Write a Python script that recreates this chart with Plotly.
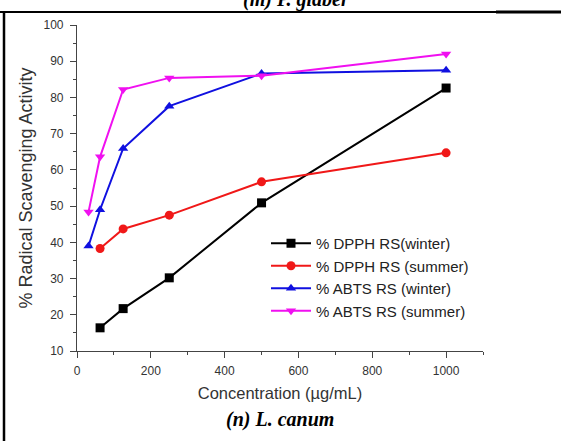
import plotly.graph_objects as go

# Concentrations (µg/mL) and % radical scavenging activity per assay/season
conc_dpph = [62.5, 125, 250, 500, 1000]
conc_abts = [31.25, 62.5, 125, 250, 500, 1000]

dpph_winter = [16.4, 21.7, 30.2, 50.9, 82.6]
dpph_summer = [38.3, 43.7, 47.5, 56.7, 64.7]
abts_winter = [39.0, 49.0, 65.9, 77.6, 86.6, 87.5]
abts_summer = [48.4, 63.6, 82.2, 85.4, 86.0, 92.0]

series = [
    ("% DPPH RS(winter)", conc_dpph, dpph_winter, "#000000", "square"),
    ("% DPPH RS (summer)", conc_dpph, dpph_summer, "#f01818", "circle"),
    ("% ABTS RS (winter)", conc_abts, abts_winter, "#1010e0", "triangle-up"),
    ("% ABTS RS (summer)", conc_abts, abts_summer, "#f010f0", "triangle-down"),
]

fig = go.Figure()
for name, x, y, color, symbol in series:
    fig.add_trace(go.Scatter(
        x=x, y=y, name=name, mode="lines+markers",
        line=dict(color=color, width=2),
        marker=dict(symbol=symbol, size=9, color=color),
    ))

sans = "Liberation Sans, Arial, sans-serif"
serif = "Liberation Serif, Times New Roman, serif"
axis_font = dict(family=sans, size=12, color="#333")

# plot area in pixels: left 77, right 483, top 25, bottom 351
L, R, T, B = 77, 483, 25, 351
W, H = R - L, B - T

def px(x):
    return (x - L) / W

def py(y):
    return (B - y) / H

fig.update_layout(
    width=561, height=441,
    margin=dict(l=L, r=561 - R, t=T, b=441 - B),
    paper_bgcolor="white", plot_bgcolor="white",
    showlegend=True,
    legend=dict(
        x=px(266), y=py(227), xanchor="left", yanchor="top",
        font=dict(family=sans, size=15, color="#222"),
        bgcolor="rgba(0,0,0,0)", tracegroupgap=0, itemwidth=40,
    ),
    xaxis=dict(
        range=[0, 1100], showgrid=False, zeroline=False,
        showline=True, linecolor="#444", linewidth=1.2,
        ticks="outside", ticklen=6, tickcolor="#444",
        minor=dict(dtick=100, ticklen=3, ticks="outside", tickcolor="#444"),
        tickfont=axis_font, ticklabelstandoff=2,
        tickvals=[0, 200, 400, 600, 800, 1000],
        title=dict(text="Concentration (µg/mL)",
                   font=dict(family=sans, size=16.5, color="#333"),
                   standoff=10),
    ),
    yaxis=dict(
        range=[10, 100], dtick=10, showgrid=False, zeroline=False,
        showline=True, linecolor="#444", linewidth=1.2,
        ticks="outside", ticklen=6, tickcolor="#444",
        minor=dict(dtick=5, ticklen=3, ticks="outside", tickcolor="#444"),
        tickfont=axis_font, ticklabelstandoff=4,
        title=dict(text="% Radical Scavenging Activity",
                   font=dict(family=sans, size=18, color="#333"),
                   standoff=6),
    ),
    shapes=[
        # table cell borders
        dict(type="line", xref="paper", yref="paper", x0=px(0), x1=px(496),
             y0=py(12), y1=py(12), line=dict(color="black", width=2)),
        dict(type="line", xref="paper", yref="paper", x0=px(496), x1=px(561),
             y0=py(12), y1=py(12), line=dict(color="black", width=3)),
        dict(type="line", xref="paper", yref="paper", x0=px(4), x1=px(4),
             y0=py(12), y1=py(441), line=dict(color="black", width=2.5)),
    ],
    annotations=[
        dict(text="<b><i>(n) L. canum</i></b>", xref="paper", yref="paper",
             x=px(280), y=py(420), xanchor="center", yanchor="middle",
             showarrow=False,
             font=dict(family=serif, size=20, color="black")),
        dict(text="<b><i>(m) P. glaber</i></b>", xref="paper", yref="paper",
             x=px(296), y=py(13), xanchor="center", yanchor="bottom",
             showarrow=False,
             font=dict(family=serif, size=20, color="black")),
    ],
)

fig.write_html("out.html")
